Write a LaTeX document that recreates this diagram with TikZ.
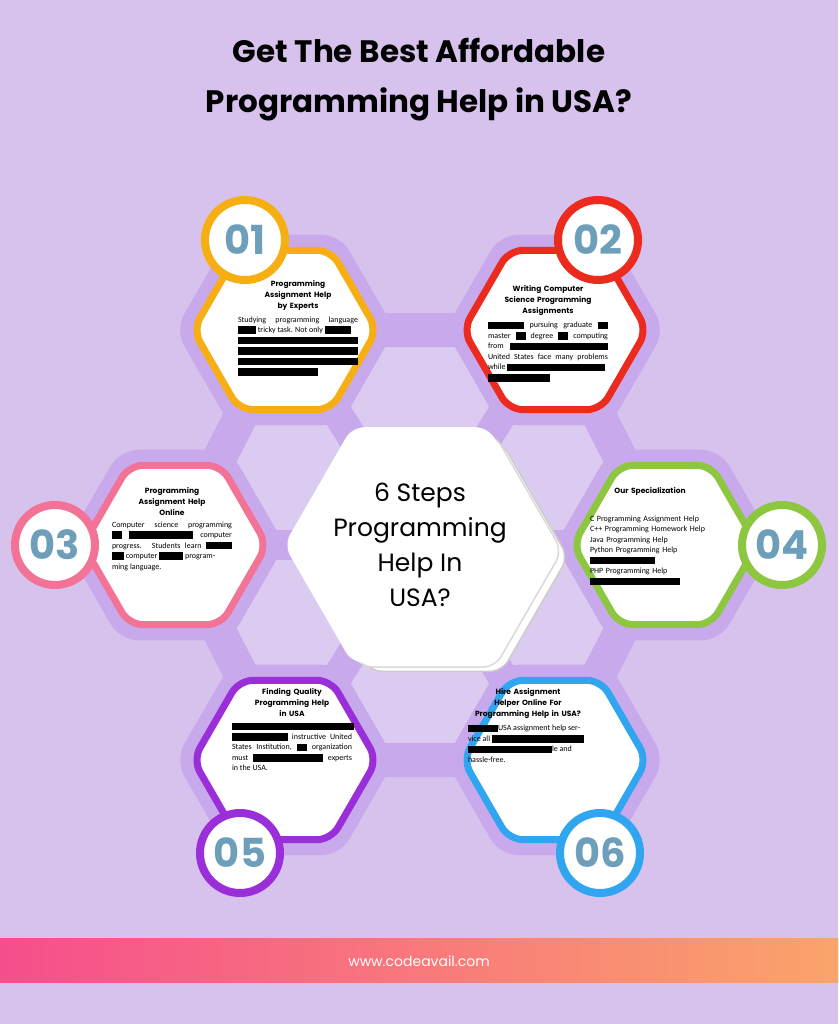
\documentclass[tikz,border=0pt]{standalone}
\usepackage{fontspec}
\setmainfont{Poppins}
\newfontfamily\bodyfont{Carlito}
\usetikzlibrary{calc}
\definecolor{bgpurple}{HTML}{D7C2EE}
\definecolor{bandpurple}{HTML}{C8A9EC}
\definecolor{numblue}{HTML}{6E9FBA}
\definecolor{cOne}{HTML}{F6AE12}
\definecolor{cTwo}{HTML}{EC2A1E}
\definecolor{cThree}{HTML}{F27396}
\definecolor{cFour}{HTML}{8DC63F}
\definecolor{cFive}{HTML}{9A2ED8}
\definecolor{cSix}{HTML}{31A6F0}
\definecolor{barpink}{HTML}{F64E8C}
\definecolor{barorange}{HTML}{FAA46A}
\newcommand{\blk}[1]{\rule[-1.2pt]{#1pt}{7.5pt}}
\newcommand{\hexpath}[2]{([shift={(#1)}]0:#2) -- ([shift={(#1)}]60:#2) -- ([shift={(#1)}]120:#2) -- ([shift={(#1)}]180:#2) -- ([shift={(#1)}]240:#2) -- ([shift={(#1)}]300:#2) -- cycle}
\tikzstyle{hexbox} = [fill=white, line width=7pt, rounded corners=14pt]
\tikzstyle{numring} = [circle, fill=white, line width=8pt, minimum size=80pt,
    font=\fontsize{40}{40}\selectfont\bfseries, text=numblue, inner sep=0pt]
\tikzstyle{steptitle} = [anchor=north, text width=120pt, align=center,
    font=\fontsize{7.5}{11}\selectfont\bfseries, inner sep=0pt]
\tikzstyle{stepbody} = [anchor=north, text width=120pt, align=justify,
    font=\bodyfont\fontsize{8}{10.5}\selectfont, inner sep=0pt]

\begin{document}
\begin{tikzpicture}[x=1pt, y=-1pt]
    \fill[bgpurple] (0,0) rectangle (838,1024);
    \fill[white, opacity=0.15] (420,545) circle (230);
    \useasboundingbox (0,0) rectangle (838,1024);

    % centres of the cells
    \coordinate (h1) at (285,330);
    \coordinate (h2) at (555,330);
    \coordinate (h3) at (175,545);
    \coordinate (h4) at (665,545);
    \coordinate (h5) at (285,760);
    \coordinate (h6) at (555,760);
    \coordinate (hc) at (420,545);

    % honeycomb band
    \draw[bandpurple, line width=34pt, line join=round]
        (h1) -- (h2) -- (h4) -- (h6) -- (h5) -- (h3) -- cycle;
    \foreach \h in {h1,h2,h3,h4,h5,h6} {
        \draw[bandpurple, line width=30pt] (hc) -- (\h);
        \fill[bandpurple, rounded corners=18pt] \hexpath{\h}{110};
    }

    % cells
    \draw[hexbox, draw=cOne] \hexpath{h1}{92};
    \draw[hexbox, draw=cTwo] \hexpath{h2}{92};
    \draw[hexbox, draw=cThree] \hexpath{h3}{92};
    \draw[hexbox, draw=cFour] \hexpath{h4}{92};
    \draw[hexbox, draw=cFive] \hexpath{h5}{92};
    \draw[hexbox, draw=cSix] \hexpath{h6}{92};

    % centre cell
    \draw[gray!40, line width=1.5pt, rounded corners=12pt, fill=white] \hexpath{$(hc)+(16,12)$}{132};
    \draw[gray!30, line width=1.5pt, rounded corners=12pt, fill=white] \hexpath{$(hc)+(8,6)$}{134};
    \fill[white, rounded corners=12pt] \hexpath{hc}{136};
    \node[align=center, font=\fontsize{25}{35}\selectfont] (centre) at (hc)
        {6 Steps\\Programming\\Help In\\USA?};

    % numbers
    \node[numring, draw=cOne] (n1) at (245,240) {01};
    \node[numring, draw=cTwo] (n2) at (598,240) {02};
    \node[numring, draw=cThree] (n3) at (55,545) {03};
    \node[numring, draw=cFour] (n4) at (782,545) {04};
    \node[numring, draw=cFive] (n5) at (240,853) {05};
    \node[numring, draw=cSix] (n6) at (600,853) {06};

    % step texts
    \node[steptitle] (t1) at (298,280) {Programming\\Assignment Help\\by Experts};
    \node[stepbody] (b1) at ($(t1.south)+(0,6)$)
        {Studying programming language \blk{18} tricky task. Not only \blk{26}\\
         \blk{120}\\ \blk{120}\\ \blk{120}\\ \blk{80}};
    \node[steptitle] (t2) at (548,285) {Writing Computer\\Science Programming\\Assignments};
    \node[stepbody] (b2) at ($(t2.south)+(0,6)$)
        {\blk{36} pursuing graduate \blk{10} master \blk{10} degree \blk{10} computing from \blk{98}
         United States face many problems while \blk{98}\\ \blk{62}};
    \node[steptitle] (t3) at (172,487) {Programming\\Assignment Help\\Online};
    \node[stepbody] (b3) at ($(t3.south)+(0,6)$)
        {Computer science programming \blk{10} \blk{64} computer progress. Students learn \blk{26}
         \blk{12} computer \blk{24} program-\\ming language.};
    \node[steptitle] (t4) at (650,487) {Our Specialization};
    \node[stepbody, align=left] (b4) at ($(t4.south)+(0,20)$)
        {C Programming Assignment Help\\C++ Programming Homework Help\\Java Programming Help\\
         Python Programming Help\\ \blk{65}\\PHP Programming Help\\ \blk{90}};
    \node[steptitle] (t5) at (292,688) {Finding Quality\\Programming Help\\in USA};
    \node[stepbody] (b5) at ($(t5.south)+(0,6)$)
        {\blk{122}\\ \blk{56} instructive United States Institution, \blk{10} organization must
         \blk{70} experts in the USA.};
    \node[steptitle] (t6) at (528,688) {Hire Assignment\\Helper Online For\\Programming Help in USA?};
    \node[stepbody] (b6) at ($(t6.south)+(0,6)$)
        {\blk{30}USA assignment help ser-\\vice all \blk{92}\\ \blk{84}le and\\hassle-free.};

    % title and footer
    \node[font=\fontsize{31}{50}\selectfont\bfseries, align=center] (title) at (419,80)
        {Get The Best Affordable\\Programming Help in USA?};
    \shade[left color=barpink, right color=barorange] (0,938) rectangle (838,982);
    \node[text=white, font=\fontsize{14}{14}\selectfont] (url) at (419,961) {www.codeavail.com};
\end{tikzpicture}
\end{document}
